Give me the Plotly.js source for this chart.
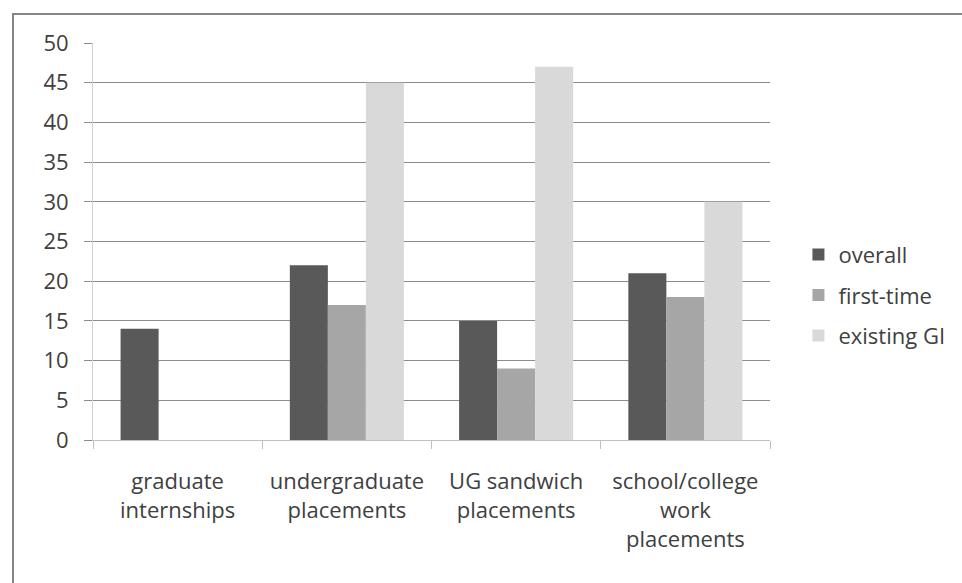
<!DOCTYPE html>
<html>
<head>
<meta charset="utf-8">
<script src="https://cdn.plot.ly/plotly-3.0.1.min.js"></script>
<style>
  html, body { margin: 0; padding: 0; background: #ffffff; }
  #chart { width: 962px; height: 583px; }
</style>
</head>
<body>
<div id="chart"></div>
<script>
// Placement types (x categories) and the three respondent groups
const categories = [
  'graduate<br>internships',
  'undergraduate<br>placements',
  'UG sandwich<br>placements',
  'school/college<br>work<br>placements'
];
const overall    = [14, 22, 15, 21];
const firstTime  = [null, 17, 9, 18];
const existingGI = [null, 45, 47, 30];
const yTicks = [0, 5, 10, 15, 20, 25, 30, 35, 40, 45, 50];

const seriesNames  = ['overall', 'first-time', 'existing GI'];
const seriesColors = ['#595959', '#a6a6a6', '#d9d9d9'];
const seriesValues = [overall, firstTime, existingGI];

const textColor = '#404040';
const fontFamily = '"Open Sans", "Liberation Sans", sans-serif';
const fontSize = 22;

const traces = seriesValues.map((vals, i) => ({
  type: 'bar',
  name: seriesNames[i],
  x: categories,
  y: vals,
  legendgroup: 'g' + i,
  marker: { color: seriesColors[i], line: { width: 0 } },
  hoverinfo: 'x+y+name'
}));

// plot area geometry in pixels (for the outer frame shape)
const W = 962, H = 583;
const M = { l: 93, r: 192, t: 43, b: 143 };
const pw = W - M.l - M.r, ph = H - M.t - M.b;
const frameX0 = (13 - M.l) / pw;
const frameY1 = (H - M.b - 14) / ph;

const layout = {
  width: W,
  height: H,
  margin: M,
  paper_bgcolor: '#ffffff',
  plot_bgcolor: '#ffffff',
  font: { family: fontFamily, size: fontSize, color: textColor },
  barmode: 'group',
  bargap: 0.326,
  bargroupgap: 0,
  showlegend: true,
  legend: {
    x: 1.042, xanchor: 'left',
    y: 0.365, yanchor: 'middle',
    traceorder: 'grouped',
    tracegroupgap: 9,
    font: { family: fontFamily, size: fontSize, color: textColor },
    bgcolor: 'rgba(0,0,0,0)'
  },
  xaxis: {
    type: 'category',
    tickson: 'boundaries',
    tickangle: 0,
    automargin: false,
    ticks: 'outside',
    ticklen: 8,
    tickcolor: '#c0c0c0',
    tickwidth: 1,
    showline: true,
    linecolor: '#c0c0c0',
    linewidth: 1,
    showgrid: false,
    zeroline: false,
    tickfont: { family: fontFamily, size: fontSize, color: textColor },
    ticklabelstandoff: 22,
    fixedrange: true
  },
  yaxis: {
    range: [0, 50],
    tickvals: yTicks,
    ticktext: yTicks.map(String),
    automargin: false,
    ticks: 'outside',
    ticklen: 8,
    tickcolor: '#8c8c8c',
    tickwidth: 1,
    showline: true,
    linecolor: '#d0d0d0',
    linewidth: 1,
    showgrid: true,
    gridcolor: '#8c8c8c',
    gridwidth: 1,
    zeroline: false,
    tickfont: { family: fontFamily, size: fontSize, color: textColor },
    ticklabelstandoff: 11,
    fixedrange: true
  },
  shapes: [{
    type: 'rect',
    xref: 'paper', yref: 'paper',
    x0: frameX0, x1: 1.6,
    y0: -0.6, y1: frameY1,
    line: { color: '#858585', width: 2 },
    fillcolor: 'rgba(0,0,0,0)',
    layer: 'below'
  }]
};

Plotly.newPlot('chart', traces, layout, { displayModeBar: false, staticPlot: true });
</script>
</body>
</html>
